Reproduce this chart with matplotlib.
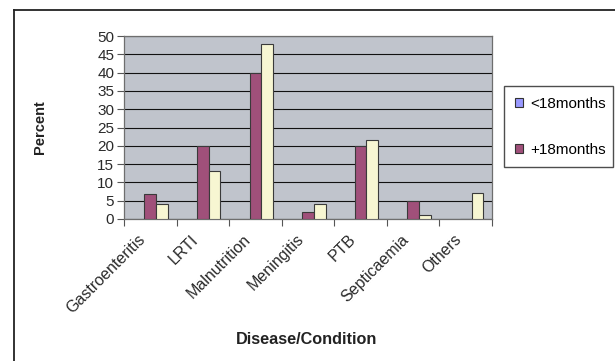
import matplotlib
matplotlib.use("Agg")
import matplotlib.pyplot as plt
from matplotlib.lines import Line2D
from matplotlib.patches import Patch
import numpy as np

plt.rcParams['font.family'] = ['Liberation Sans', 'DejaVu Sans']

categories = ["Gastroenteritis", "LRTI", "Malnutrition", "Meningitis",
              "PTB", "Septicaemia", "Others"]
under18 = [0, 0, 0, 0, 0, 0, 0]
over18 = [6.7, 20, 40, 1.8, 20, 5, 0]
third = [4, 13, 47.7, 4, 21.5, 1, 7]
series_names = ["<18months", "+18months"]
y_ticks = [0, 5, 10, 15, 20, 25, 30, 35, 40, 45, 50]

W, H = 615, 361
fig = plt.figure(figsize=(W / 100, H / 100), dpi=100)

# chart-area frame (only the top and left edges fall inside the canvas)
fig.add_artist(Line2D([13.5 / W, 13.5 / W], [0, 1 - 10 / H], transform=fig.transFigure,
                      color="#222222", lw=1.3))
fig.add_artist(Line2D([13.5 / W, 1], [1 - 10 / H, 1 - 10 / H], transform=fig.transFigure,
                      color="#222222", lw=1.3))

left, right, top, bottom = 124, 492, 36, 219
ax = fig.add_axes([left / W, 1 - bottom / H, (right - left) / W, (bottom - top) / H])
ax.set_facecolor("#C0C4CC")

x = np.arange(len(categories))
w = 1 / 4.5
ax.bar(x - w, under18, w, color="#9999FF", edgecolor="none", zorder=3)
ax.bar(x, over18, w, color="#A0507A", edgecolor="#3a3a3a", lw=0.8, zorder=3)
ax.bar(x + w, third, w, color="#F7F6D2", edgecolor="#3a3a3a", lw=0.8, zorder=3)

ax.set_xlim(-0.5, len(categories) - 0.5)
ax.set_ylim(0, 50)
ax.set_yticks(y_ticks)
ax.tick_params(axis="y", labelsize=11, labelcolor="#2a2a2a", direction="out",
               length=5, width=0.8, color="#555555", pad=2)
ax.yaxis.grid(True, color="#111111", lw=0.8, zorder=1)
ax.set_axisbelow(True)

# category boundary ticks; labels placed at category centres
ax.set_xticks(np.arange(len(categories) + 1) - 0.5)
ax.set_xticklabels([])
ax.tick_params(axis="x", direction="out", length=5, width=0.8, color="#555555")
for xi, lab in zip(x, categories):
    ax.annotate(lab, xy=(xi, 0), xycoords=("data", "axes fraction"),
                xytext=(-5, -13), textcoords="offset points",
                rotation=45, rotation_mode="anchor", ha="right", va="center",
                fontsize=11.5, color="#2a2a2a")

for side in ["left", "bottom", "top", "right"]:
    ax.spines[side].set_color("#6e6e6e")
    ax.spines[side].set_linewidth(0.9)

fig.text(40 / W, 1 - 127 / H, "Percent", rotation=90, ha="center", va="center",
         fontsize=10.5, fontweight="bold", color="#222222")
fig.text(307 / W, 1 - 340 / H, "Disease/Condition", ha="center", va="center",
         fontsize=11.7, fontweight="bold", color="#222222")

handles = [Patch(facecolor="#9999FF", edgecolor="#333333", lw=0.8),
           Patch(facecolor="#A0507A", edgecolor="#333333", lw=0.8)]
leg = fig.legend(handles, series_names, loc="upper left",
                 bbox_to_anchor=(504 / W, 1 - 171 / H, 109 / W, 85 / H),
                 mode="expand", fontsize=11, frameon=True, fancybox=False,
                 handlelength=0.55, handleheight=0.55, handletextpad=0.45,
                 labelspacing=2.1, borderpad=0.7, borderaxespad=0)
leg.get_frame().set_edgecolor("#222222")
leg.get_frame().set_linewidth(1.0)

fig.savefig("out.png", dpi=100)
